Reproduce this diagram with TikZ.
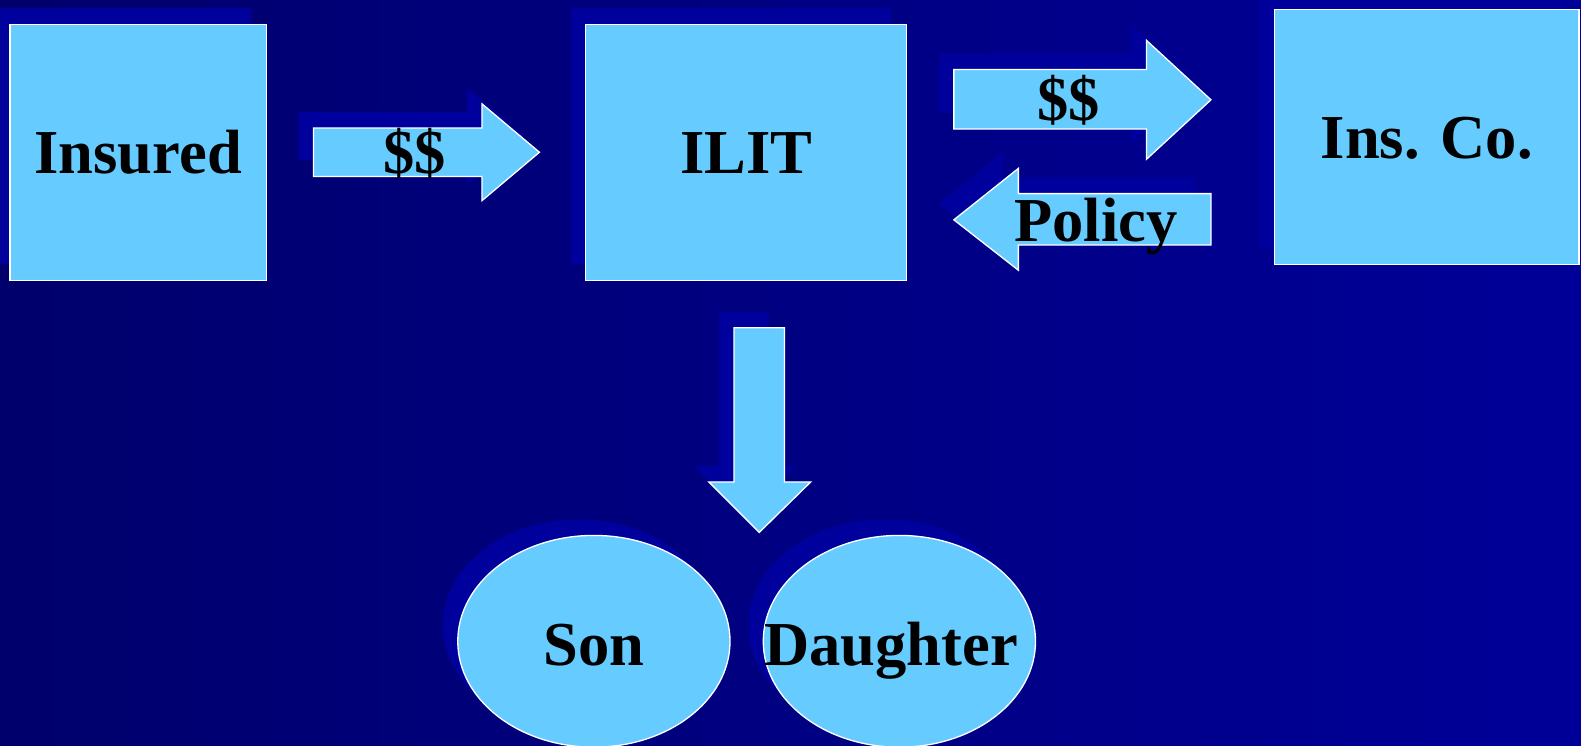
\documentclass[tikz,border=0pt]{standalone}
\usepackage{fontspec}
\setmainfont{Liberation Serif}
\usetikzlibrary{shapes.geometric,shadows}
\definecolor{ilitnavy}{HTML}{00006C}
\definecolor{ilitblue}{HTML}{000098}
\definecolor{ilitshade}{HTML}{00009C}
\definecolor{ilitsky}{HTML}{66CCFF}
\tikzset{
  sh/.style={drop shadow={shadow xshift=-15pt, shadow yshift=16pt, fill=ilitshade, opacity=1}},
  bx/.style={sh, draw=white, line width=1.3pt, fill=ilitsky, text=black, inner sep=0pt, font=\fontsize{62}{70}\selectfont\bfseries, text height=42pt, text depth=0pt},
  blk/.style={bx, rectangle},
  ovl/.style={bx, ellipse, minimum width=270pt, minimum height=210pt},
  barr/.style={sh, draw=white, line width=1.3pt, fill=ilitsky, line join=miter},
  lbl/.style={font=\fontsize{62}{70}\selectfont\bfseries, text=black, anchor=base, inner sep=0pt},
}
\begin{document}
\begin{tikzpicture}[x=1pt, y=-1pt]
  \useasboundingbox (0,0) rectangle (1568,739);
  \shade[left color=ilitnavy, right color=ilitblue] (0,0) rectangle (1568,739);
  % the three parties
  \node[blk, minimum width=254pt, minimum height=254pt] (ins) at (137,151) {Insured};
  \node[blk, minimum width=318pt, minimum height=254pt] (ilit) at (740,151) {ILIT};
  \node[blk, minimum width=302pt, minimum height=253pt] (co) at (1415,136) {Ins. Co.};
  % block arrows
  \draw[barr] (311,127) -| (478,103) -- (535,151) -- (478,199) |- (311,175) -- cycle;
  \draw[barr] (946,69) -| (1137,40) -- (1201,99) -- (1137,158) |- (946,128) -- cycle;
  \draw[barr] (1201,192) -| (1010,167) -- (946,218) -- (1010,268) |- (1201,243) -- cycle;
  \draw[barr] (728,325) -- (778,325) |- (804,478) -- (753,528) -- (703,478) -| (728,325) -- cycle;
  \node[lbl] (gift) at (411,172) {\$\$};
  \node[lbl] (prem) at (1060,120) {\$\$};
  \node[lbl] (pol) at (1087,240) {Policy};
  % beneficiaries
  \node[ovl] (son) at (589,636) {};
  \node[ovl] (dau) at (892,636) {};
  \node[lbl] at ([yshift=-24pt]son.center) {Son};
  \node[lbl] at ([xshift=-8pt,yshift=-24pt]dau.center) {Daughter};
\end{tikzpicture}
\end{document}
